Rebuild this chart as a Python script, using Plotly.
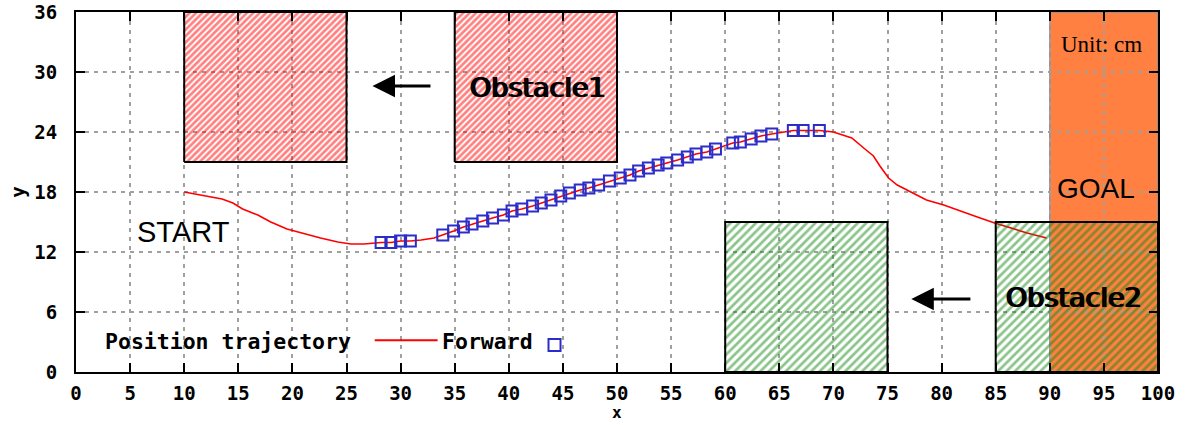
import plotly.graph_objects as go

# ---------------- data ----------------
traj_x = [10.0, 11.2, 12.5, 13.5, 14.5, 15.4, 16.8, 18.0, 19.5, 21.1, 22.6, 24.2, 25.4, 26.6, 27.7,
          28.2, 29.1, 30.0, 30.9, 31.9, 33.1, 33.9, 34.9, 35.8, 36.6, 37.6, 38.5, 39.5, 40.3, 41.2,
          42.2, 43.0, 43.9, 44.8, 45.6, 46.6, 47.4, 48.3, 49.3, 50.3, 51.2, 52.0, 52.9, 53.8, 54.6,
          55.6, 56.5, 57.3, 58.3, 59.1, 60.7, 61.4, 62.4, 63.3, 64.3, 65.3, 66.3, 67.2, 68.7, 70.0,
          70.6, 71.7, 72.8, 73.7, 74.3, 75.1, 75.9, 77.1, 78.6, 80.2, 81.7, 83.3, 84.9, 86.3, 87.9, 89.7]
traj_y = [18.0, 17.75, 17.5, 17.3, 16.9, 16.3, 15.7, 15.0, 14.3, 13.8, 13.4, 13.0, 12.8, 12.8, 12.9,
          12.95, 12.95, 13.1, 13.1, 13.2, 13.4, 13.7, 14.1, 14.5, 14.8, 15.1, 15.4, 15.7, 16.1, 16.3,
          16.6, 16.9, 17.2, 17.6, 17.9, 18.2, 18.4, 18.7, 19.1, 19.4, 19.7, 20.1, 20.4, 20.7, 20.9,
          21.2, 21.5, 21.8, 22.0, 22.3, 22.9, 23.0, 23.3, 23.6, 23.8, 24.0, 24.15, 24.15, 24.15, 24.0,
          23.8, 23.4, 22.4, 21.6, 20.6, 19.4, 18.7, 18.05, 17.2, 16.7, 16.1, 15.5, 14.9, 14.4, 13.9, 13.4]

fwd_x = [28.2, 29.1, 30.0, 30.9, 33.9, 34.9, 35.8, 36.6, 37.6, 38.5, 39.5, 40.3, 41.2, 42.2, 43.0,
         43.9, 44.8, 45.6, 46.6, 47.4, 48.3, 49.3, 50.3, 51.2, 52.0, 52.9, 53.8, 54.6, 55.6, 56.5,
         57.3, 58.3, 59.1, 60.7, 61.4, 62.4, 63.3, 64.3, 66.3, 67.2, 68.7]
fwd_y = [12.95, 12.95, 13.1, 13.1, 13.7, 14.1, 14.5, 14.8, 15.1, 15.4, 15.7, 16.1, 16.3, 16.6, 16.9,
         17.2, 17.6, 17.9, 18.2, 18.4, 18.7, 19.1, 19.4, 19.7, 20.1, 20.4, 20.7, 20.9, 21.2, 21.5,
         21.8, 22.0, 22.3, 22.9, 23.0, 23.3, 23.6, 23.8, 24.15, 24.15, 24.15]

obstacle1_x0 = [10, 35]
obstacle1_x1 = [25, 50]
obstacle1_y = [21, 36]
obstacle2_x0 = [60, 85]
obstacle2_x1 = [75, 100]
obstacle2_y = [0, 15]
goal_x = [90, 100]
goal_y = [0, 36]

x_ticks = [0, 5, 10, 15, 20, 25, 30, 35, 40, 45, 50, 55, 60, 65, 70, 75, 80, 85, 90, 95, 100]
y_ticks = [0, 6, 12, 18, 24, 30, 36]

# ---------------- style ----------------
MONO = "DejaVu Sans Mono"
SANS = "DejaVu Sans"
tickfont = dict(family=MONO, size=19, color="black", weight="bold")
RED = "#ff0000"
GREEN = "#148a14"
ORANGE = "#ff8040"
BLUE = "#2c2cc8"

fig = go.Figure()

# trajectory line
fig.add_trace(go.Scatter(x=traj_x, y=traj_y, mode="lines", name="Position trajectory",
                         line=dict(color=RED, width=1.6), showlegend=False))


def box(x0, x1, y0, y1, color, size, solidity):
    return go.Scatter(x=[x0, x1, x1, x0, x0], y=[y0, y0, y1, y1, y0], mode="lines",
                      fill="toself", fillcolor="rgba(0,0,0,0)",
                      fillpattern=dict(shape="/", fgcolor=color, bgcolor="rgba(0,0,0,0)",
                                       size=size, solidity=solidity),
                      line=dict(color="black", width=2), showlegend=False, hoverinfo="skip")


for a, b in zip(obstacle1_x0, obstacle1_x1):
    fig.add_trace(box(a, b, obstacle1_y[0], obstacle1_y[1], RED, 4.5, 0.6))
for a, b in zip(obstacle2_x0, obstacle2_x1):
    fig.add_trace(box(a, b, obstacle2_y[0], obstacle2_y[1], GREEN, 6, 0.45))

# forward markers
fig.add_trace(go.Scatter(x=fwd_x, y=fwd_y, mode="markers", name="Forward",
                         marker=dict(symbol="square-open", size=11, color=BLUE,
                                     line=dict(width=2, color=BLUE)), showlegend=False))

# goal region (below grid)
fig.add_shape(type="rect", xref="x", yref="y", x0=goal_x[0], x1=goal_x[1], y0=goal_y[0], y1=goal_y[1],
              fillcolor=ORANGE, line=dict(color="#909090", width=1.5), layer="below")

# text labels
def label(x, y, text, family, size, weight="normal", shadow=None):
    f = dict(family=family, size=size, color="black", weight=weight)
    if shadow:
        f["shadow"] = shadow
    fig.add_annotation(x=x, y=y, xref="x", yref="y", text=text, showarrow=False,
                       font=f, xanchor="center", yanchor="middle")


label(9.93, 14.0, "START", "Liberation Sans", 29)
label(42.6, 28.5, "Obstacle1", SANS, 27, shadow="2px 0px 0px #000")
label(92.1, 7.5, "Obstacle2", SANS, 27, shadow="2px 0px 0px #000")
label(94.3, 18.4, "GOAL", "Liberation Sans", 28)
label(94.8, 32.8, "Unit: cm", "Liberation Serif", 23)

# arrows
for hx, tx, y in [(27.4, 32.9, 28.6), (77.2, 82.8, 7.3)]:
    fig.add_annotation(x=hx, y=y, ax=tx, ay=y, xref="x", yref="y", axref="x", ayref="y",
                       text="", showarrow=True, arrowhead=2, arrowsize=1.5, arrowwidth=3,
                       arrowcolor="black", standoff=0)

# custom legend (text before sample, gnuplot style)
legfont = dict(family=MONO, size=21.5, color="black", weight="bold")
fig.add_annotation(x=0.2558, y=0.0844, xref="paper", yref="paper", text="Position trajectory",
                   showarrow=False, xanchor="right", yanchor="middle", font=legfont)
fig.add_annotation(x=0.4238, y=0.0844, xref="paper", yref="paper", text="Forward",
                   showarrow=False, xanchor="right", yanchor="middle", font=legfont)
fig.add_shape(type="line", xref="paper", yref="paper", x0=0.2761, x1=0.3342, y0=0.0883, y1=0.0883,
              line=dict(color=RED, width=2))
fig.add_shape(type="rect", xref="paper", yref="paper", x0=0.4367, x1=0.4478, y0=0.0585, y1=0.0919,
              line=dict(color=BLUE, width=2), fillcolor="rgba(0,0,0,0)")

# x axis title placed just below the tick labels (as in the reference)
fig.add_annotation(x=0.5, y=-0.1458, xref="paper", yref="paper", text="x", showarrow=False,
                   xanchor="center", yanchor="bottom",
                   font=dict(family=MONO, size=16, color="black", weight="bold"))

axis_common = dict(showgrid=True, gridcolor="#a0a0a0", gridwidth=1.5, griddash="4px,5px",
                   showline=True, linecolor="black", linewidth=2, mirror="allticks",
                   ticks="inside", ticklen=9, tickwidth=1.5, tickcolor="black",
                   tickfont=tickfont, zeroline=False, automargin=False)

fig.update_xaxes(range=[0, 100], tickvals=x_ticks, ticktext=[str(v) for v in x_ticks],
                 ticklabelstandoff=3, **axis_common)
fig.update_yaxes(range=[0, 36], tickvals=y_ticks, ticktext=[str(v) for v in y_ticks],
                 title=dict(text="y", font=tickfont, standoff=4), ticklabelstandoff=13,
                 **axis_common)

fig.update_layout(width=1190, height=425, margin=dict(l=76, r=32, t=12, b=53),
                  plot_bgcolor="white", paper_bgcolor="white", showlegend=False)

fig.write_html("out.html")
